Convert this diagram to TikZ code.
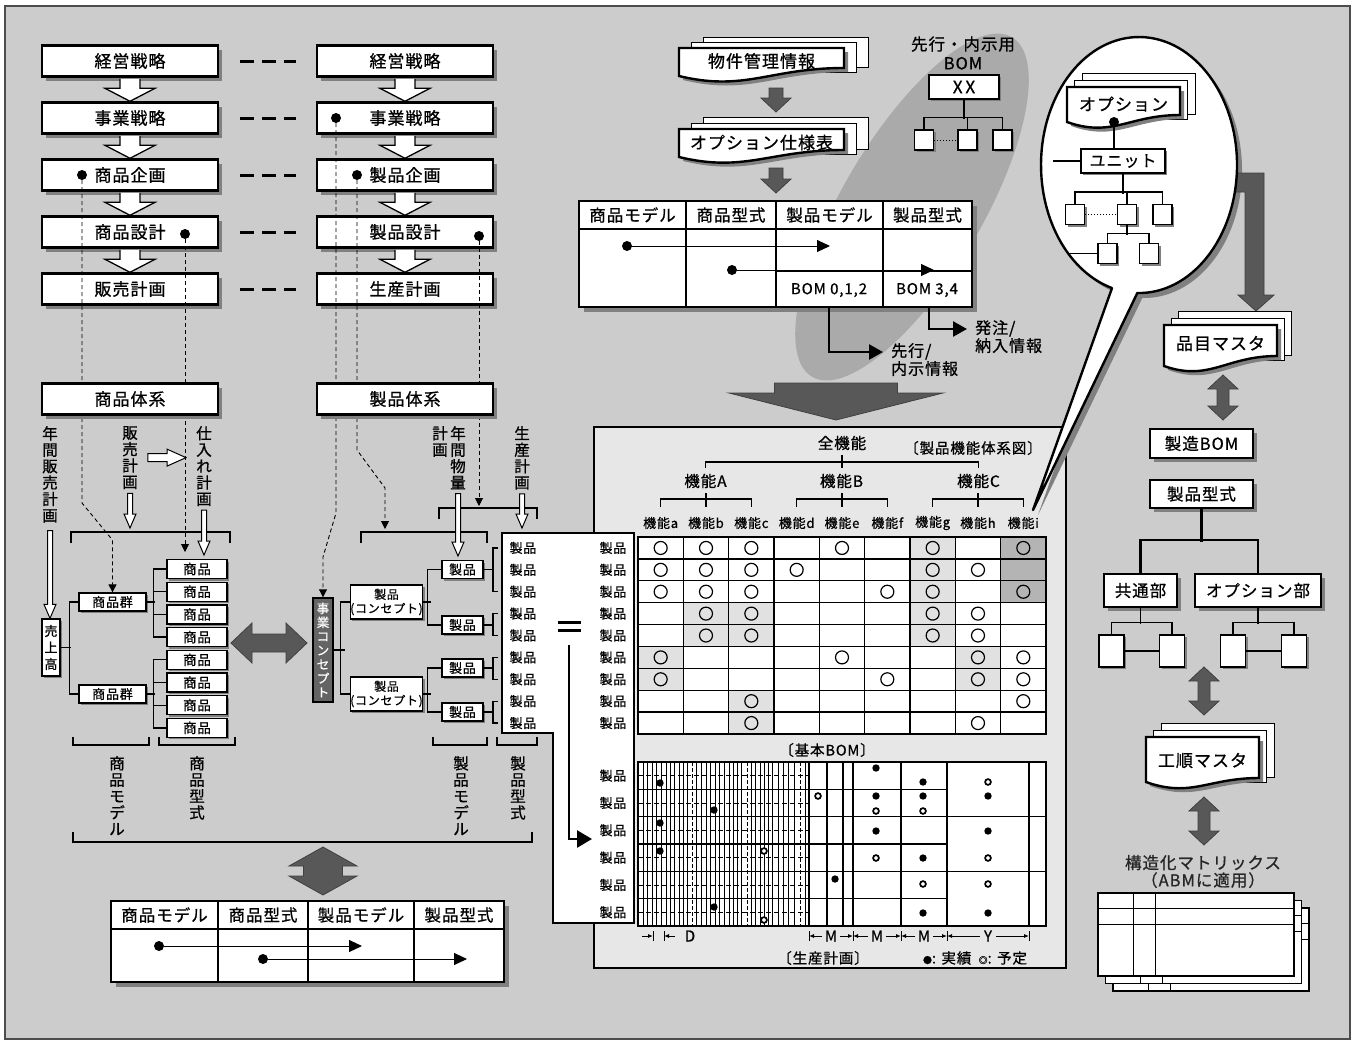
\documentclass[tikz,border=0pt]{standalone}
\usepackage{fontspec}
\setmainfont{Noto Sans CJK JP}[LetterSpace=6,FakeBold=0.8]
\usetikzlibrary{arrows.meta,positioning,calc,shadows}
\definecolor{bgGray}{RGB}{204,204,204}
\definecolor{panelGray}{RGB}{231,231,231}
\definecolor{arrowGray}{RGB}{88,88,88}
\definecolor{ovalGray}{RGB}{170,170,170}
\definecolor{cellLight}{RGB}{225,225,225}
\definecolor{cellDark}{RGB}{180,180,180}
\definecolor{shadowGray}{RGB}{128,128,128}
\definecolor{conceptGray}{RGB}{100,100,100}
\newcommand{\fsz}[1]{\fontsize{#1}{#1}\selectfont}
\pgfdeclarelayer{back}
\pgfsetlayers{back,main}

% white block arrow from one box down to the next
\newcommand{\blockdn}[2]{%
  \draw[hollow,line width=1.3pt] let \p1=(#1.south), \p2=(#2.north) in
    (\x1-10pt,\y1-1.2pt) -- (\x1-10pt,\y2+13pt) -- (\x1-25pt,\y2+13pt) -- (\x1,\y2)
    -- (\x1+25pt,\y2+13pt) -- (\x1+10pt,\y2+13pt) -- (\x1+10pt,\y1-1.2pt);}
% thin white arrow pointing down
\newcommand{\hollowdn}[2]{%
  \draw[hollow] let \p1=(#1), \p2=(#2) in
    (\x1-2.5pt,\y1) -- (\x1-2.5pt,\y2+14pt) -- (\x1-6pt,\y2+14pt) -- (\x1,\y2)
    -- (\x1+6pt,\y2+14pt) -- (\x1+2.5pt,\y2+14pt) -- (\x1+2.5pt,\y1) -- cycle;}
% dark arrow pointing down: top, tip, shaft half, head half, head length
\newcommand{\dkdown}[5]{%
  \draw[darkarrow] let \p1=(#1), \p2=(#2) in
    (\x1-#3,\y1) -- (\x1-#3,\y2+#5) -- (\x1-#4,\y2+#5) -- (\x1,\y2)
    -- (\x1+#4,\y2+#5) -- (\x1+#3,\y2+#5) -- (\x1+#3,\y1) -- cycle;}
% dark double arrows: ends, head half, head length, shaft half
\newcommand{\dkdblh}[5]{%
  \draw[darkarrow] let \p1=(#1), \p2=(#2) in
    (\x1,\y1) -- (\x1+#4,\y1+#3) -- (\x1+#4,\y1+#5) -- (\x2-#4,\y1+#5) -- (\x2-#4,\y1+#3)
    -- (\x2,\y1) -- (\x2-#4,\y1-#3) -- (\x2-#4,\y1-#5) -- (\x1+#4,\y1-#5) -- (\x1+#4,\y1-#3) -- cycle;}
\newcommand{\dkdblv}[5]{%
  \draw[darkarrow] let \p1=(#1), \p2=(#2) in
    (\x1,\y1) -- (\x1+#3,\y1-#4) -- (\x1+#5,\y1-#4) -- (\x1+#5,\y2+#4) -- (\x1+#3,\y2+#4)
    -- (\x1,\y2) -- (\x1-#3,\y2+#4) -- (\x1-#5,\y2+#4) -- (\x1-#5,\y1-#4) -- (\x1-#3,\y1-#4) -- cycle;}
% stack of documents: name, x1, top, x2, right foot, left foot, dx, dy, text
\newcommand{\docstack}[9]{%
  \draw[page] ({#2+2*#7},{#3-2*#8}) rectangle ({#4+2*#7},{#5-1});
  \draw[page] ({#2+#7},{#3-#8}) rectangle ({#4+#7},{#5+4});
  \fill[shadowGray] ({#2+4},{#3+4}) -- ({#4+4},{#3+4}) -- ({#4+4},{#5+4})
    .. controls ({#2+0.55*(#4-#2)+4},{#5+4}) and ({#2+0.4*(#4-#2)+4},{#6+20}) .. ({#2+4},{#6+4}) -- cycle;
  \draw[frontpage] (#2,#3) -- (#4,#3) -- (#4,#5)
    .. controls ({#2+0.55*(#4-#2)},#5) and ({#2+0.4*(#4-#2)},{#6+16}) .. (#2,#6) -- cycle;
  \node[doctext] (#1) at ({(#2+#4)/2},{(#3+#5)/2+3}) {#9};}

\begin{document}
\begin{tikzpicture}[x=1pt,y=-1pt,
    mainbox/.style={draw,line width=2.4pt,fill=white,minimum width=176pt,minimum height=31pt,inner sep=0pt,font=\fsz{17},
      drop shadow={shadow xshift=4pt,shadow yshift=-4pt,fill=shadowGray,opacity=1}},
    sidebox/.style={draw,line width=2.4pt,fill=white,inner sep=0pt,font=\fsz{16.5},
      drop shadow={shadow xshift=4pt,shadow yshift=-4pt,fill=shadowGray,opacity=1}},
    itembox/.style={draw,line width=1.3pt,fill=white,inner sep=0pt,font=\fsz{13},
      drop shadow={shadow xshift=2pt,shadow yshift=-2pt,fill=shadowGray,opacity=1}},
    leafbox/.style={itembox,minimum width=19pt,minimum height=20pt},
    vlabel/.style={align=center,inner sep=0pt,anchor=north,font=\fontsize{15.5}{16.4}\selectfont},
    rowlab/.style={inner sep=0pt,font=\fsz{13}},
    hdr/.style={inner sep=0pt,font=\fsz{16.5}},
    doctext/.style={inner sep=0pt,font=\fsz{17}},
    tree/.style={line width=1.3pt},
    guide/.style={line width=0.9pt,dash pattern=on 4pt off 3pt},
    guidetip/.style={guide,-{Triangle[length=8pt,width=8pt]}},
    spot/.style={circle,fill=black,inner sep=0pt,minimum size=10pt},
    hollow/.style={draw,line width=1pt,fill=white},
    darkarrow/.style={draw=black!75,line width=0.8pt,fill=arrowGray},
    linkdash/.style={line width=3pt,dash pattern=on 14pt off 8pt,shorten <=21pt,shorten >=20pt},
    flow/.style={line width=1pt,-{Triangle[length=13pt,width=12pt]}},
    elbowflow/.style={line width=2.6pt,-{Triangle[length=14pt,width=15pt]}},
    page/.style={draw,line width=1pt,fill=white},
    frontpage/.style={draw,line width=2.4pt,fill=white},
    cell/.style={line width=1.3pt},
    fine/.style={line width=0.6pt},
    dim/.style={line width=0.9pt,-{Latex[length=5pt,width=4pt]}}
  ]
\useasboundingbox (0,0) rectangle (1356,1044);
\begin{pgfonlayer}{back}
  \fill[white] (0,0) rectangle (1356,1044);
  \draw[line width=1.2pt,fill=bgGray,draw=black!70] (5,6) rectangle (1350,1039);
  \fill[ovalGray,rotate around={59.5:(912,207)}] (912,207) ellipse [x radius=197pt,y radius=70pt];
  \draw[line width=1.2pt,fill=panelGray] (594,427) rectangle (1066,968);
\end{pgfonlayer}

% strategy columns
\node[mainbox] (ls1) at (130,61) {経営戦略};
\node[mainbox,below=23.6pt of ls1] (ls2) {事業戦略};
\node[mainbox,below=23.6pt of ls2] (ls3) {商品企画};
\node[mainbox,below=23.6pt of ls3] (ls4) {商品設計};
\node[mainbox,below=23.6pt of ls4] (ls5) {販売計画};
\node[mainbox] (rs1) at (405,61) {経営戦略};
\node[mainbox,below=23.6pt of rs1] (rs2) {事業戦略};
\node[mainbox,below=23.6pt of rs2] (rs3) {製品企画};
\node[mainbox,below=23.6pt of rs3] (rs4) {製品設計};
\node[mainbox,below=23.6pt of rs4] (rs5) {生産計画};
\foreach \i [evaluate=\i as \j using int(\i+1)] in {1,...,4} {
  \blockdn{ls\i}{ls\j}
  \blockdn{rs\i}{rs\j}
}
\foreach \i in {1,...,5} \draw[linkdash] (ls\i) -- (rs\i);

% goods tree
\node[itembox,minimum width=18pt,minimum height=57pt,align=center,font=\fontsize{13}{16.5}\selectfont] (uri) at (51,647.5) {売\\上\\高};
\node[itembox,minimum width=67pt,minimum height=18pt] (gA) at (112.5,602) {商品群};
\node[itembox,minimum width=67pt,minimum height=18pt] (gB) at (112.5,694) {商品群};
\foreach \i in {1,...,8}
  \node[itembox,minimum width=60pt,minimum height=19pt,font=\fsz{13.5}] (p\i) at (197,{569+(\i-1)*22.7}) {商品};
\draw[tree] (uri.east) -- ++(10,0);
\draw[tree] (gA.west) -- ++(-9,0) |- (gB.west);
\draw[tree] (gA.east) -- ++(8,0);
\draw[tree] (gB.east) -- ++(8,0);
\draw[tree] (p1.west) -- ++(-13,0) |- (p4.west);
\draw[tree] (p5.west) -- ++(-13,0) |- (p8.west);
\foreach \i in {2,3,6,7} \draw[tree] (p\i.west) -- ++(-13,0);
\draw[tree] (71,543) |- (230,532) -- (230,543);
\draw[tree] (73,737) |- (149,745) -- (149,737);
\draw[tree] (159,737) |- (235,745) -- (235,737);
\draw[tree] (73,832) |- (532,842) -- (532,832);

% product tree
\node[draw,line width=1.4pt,fill=conceptGray,text=white,minimum width=20pt,minimum height=104pt,inner sep=0pt,align=center,font=\fontsize{12.5}{14}\selectfont] (jc) at (323,650) {事\\業\\コ\\ン\\セ\\プ\\ト};
\node[itembox,minimum width=67pt,minimum height=34pt,align=center,font=\fontsize{12}{14}\selectfont] (cA) at (386.5,602) {製品\\(コンセプト)};
\node[itembox,minimum width=67pt,minimum height=34pt,align=center,font=\fontsize{12}{14}\selectfont] (cB) at (386.5,694) {製品\\(コンセプト)};
\node[itembox,minimum width=41pt,minimum height=18pt] (q1) at (462.5,569.5) {製品};
\node[itembox,minimum width=41pt,minimum height=18pt] (q2) at (462.5,625) {製品};
\node[itembox,minimum width=41pt,minimum height=18pt] (q3) at (462.5,668) {製品};
\node[itembox,minimum width=41pt,minimum height=18pt] (q4) at (462.5,712) {製品};
\draw[tree] (jc.east) -- ++(11,0);
\draw[tree] (cA.west) -- ++(-9,0) |- (cB.west);
\draw[tree] (cA.east) -- ++(8,0);
\draw[tree] (cB.east) -- ++(8,0);
\draw[tree] (q1.west) -- ++(-14,0) |- (q2.west);
\draw[tree] (q3.west) -- ++(-14,0) |- (q4.west);
\foreach \i in {1,...,4} \draw[tree] (q\i.east) -- ++(10,0);
\foreach \a/\b in {1/3,4/5,6/7,8/9}
  \draw[tree] (498,{537+(\a-0.5)*21.89}) -- (493,{537+(\a-0.5)*21.89}) -- (493,{537+(\b-0.5)*21.89}) -- (498,{537+(\b-0.5)*21.89});
\draw[tree] (439,519) |- (537,508) -- (537,519);
\draw[tree] (361,543) |- (487,532) -- (487,543);
\draw[tree] (433,737) |- (487,745) -- (487,737);
\draw[tree] (497,737) |- (537,745) -- (537,737);
\dkdblh{231,643}{307,643}{20pt}{21pt}{9pt}

% dots and dashed guides
\node[spot] (dA) at (82,175) {};
\node[spot] (dB) at (185,234) {};
\node[spot] (dC) at (336,118) {};
\node[spot] (dD) at (357,175) {};
\node[spot] (dE) at (479,236) {};
\coordinate (kB) at (185,552);
\coordinate (kD) at (385,529);
\coordinate (kE) at (479,506);
\draw[guidetip] (dA) -- (82,503) -- (112.5,540) -- (gA.north);
\draw[guidetip] (dB) -- (kB);
\draw[guidetip] (dC) -- (336,513) -- (323,557) -- (jc.north);
\draw[guidetip] (dD) -- (357,450) -- (385,488) -- (kD);
\draw[guidetip] (dE) -- (kE);
\node[mainbox] (lsys) at (130,399) {商品体系};
\node[mainbox] (rsys) at (405,399) {製品体系};

% vertical labels and white arrows
\node[vlabel] (vA) at (50,426) {年\\間\\販\\売\\計\\画};
\node[vlabel] (vB) at (130,426) {販\\売\\計\\画};
\node[vlabel] (vC) at (204,426) {仕\\入\\れ\\計\\画};
\node[vlabel] (vD) at (458,426) {年\\間\\物\\量};
\node[vlabel] (vE) at (440,426) {計\\画};
\node[vlabel] (vF) at (522,426) {生\\産\\計\\画};
\node[vlabel] (vG) at (117,756) {商\\品\\モ\\デ\\ル};
\node[vlabel] (vH) at (197,756) {商\\品\\型\\式};
\node[vlabel] (vI) at (461,756) {製\\品\\モ\\デ\\ル};
\node[vlabel] (vJ) at (518,756) {製\\品\\型\\式};
\coordinate (kB1) at (130,528);
\coordinate (kC) at (204,555);
\coordinate (kD2) at (458,556);
\coordinate (kF) at (522,528);
\coordinate (kH) at (186,457);
\hollowdn{$(vA.south)+(0,8)$}{uri.north}
\hollowdn{$(vB.south)+(0,4)$}{kB1}
\hollowdn{$(vC.south)+(0,4)$}{kC}
\hollowdn{$(vD.south)+(0,4)$}{kD2}
\hollowdn{$(vF.south)+(0,4)$}{kF}
\draw[hollow] let \p1=($(vB.east)+(10,0)$), \p2=(kH) in
  (\x1,\y1+4pt) -- (\x2-19pt,\y1+4pt) -- (\x2-19pt,\y1+8.5pt) -- (\x2,\y1)
  -- (\x2-19pt,\y1-8.5pt) -- (\x2-19pt,\y1-4pt) -- (\x1,\y1-4pt) -- cycle;

% white label strip
\draw[line width=1.5pt,fill=white] (502,533) -- (634,533) -- (634,923) -- (553,923) -- (553,733) -- (502,733) -- cycle;
\foreach \r in {1,...,9} {
  \node[rowlab] (ml\r) at (523,{537+(\r-0.5)*21.89}) {製品};
  \node[rowlab] (mr\r) at (613,{537+(\r-0.5)*21.89}) {製品};
}
\foreach \r in {1,...,6} \node[rowlab] (bl\r) at (613,{762+(\r-0.5)*27.33}) {製品};
\draw[line width=3pt] (558,622) -- (581,622) (558,630) -- (581,630);
\coordinate (eqTop) at (569,645);
\coordinate (eqEnd) at (592,839);
\draw[line width=2.6pt,-{Triangle[length=15pt,width=17pt]}] (eqTop) |- (eqEnd);

% bottom comparison table
\dkdblv{323,847}{323,895}{34pt}{19pt}{19.5pt}
\fill[shadowGray] (116,906) rectangle (509,987);
\draw[line width=2.6pt,fill=white] (111,901) rectangle (504,982);
\draw[cell] (111,929) -- (504,929);
\foreach \x in {218,308,414} \draw[cell] (\x,901) -- (\x,982);
\node[hdr] (bh1) at (164.5,915) {商品モデル};
\node[hdr] (bh2) at (263,915) {商品型式};
\node[hdr] (bh3) at (361,915) {製品モデル};
\node[hdr] (bh4) at (459,915) {製品型式};
\node[spot] (ba1) at (159,946) {};
\node[spot] (ba2) at (263,959) {};
\coordinate (ba1e) at (362,946);
\coordinate (ba2e) at (467,959);
\draw[flow] (ba1) -- (ba1e);
\draw[flow] (ba2) -- (ba2e);

% documents and upper table
\docstack{docA}{679}{48}{844}{68}{76}{12}{5.5}{物件管理情報}
\docstack{docB}{679}{129}{844}{150}{157}{12}{6}{オプション仕様表}
\dkdown{776,88}{776,112}{7pt}{15pt}{14pt}
\dkdown{776,168}{776,193}{7pt}{15pt}{14pt}
\fill[shadowGray] (584,206) rectangle (977,312);
\draw[line width=2.6pt,fill=white] (579,201) rectangle (972,307);
\draw[cell] (579,229) -- (972,229);
\draw[cell] (776,271) -- (972,271);
\foreach \x in {686,776,883} \draw[cell] (\x,201) -- (\x,307);
\node[hdr] (th1) at (632.5,215) {商品モデル};
\node[hdr] (th2) at (731,215) {商品型式};
\node[hdr] (th3) at (829.5,215) {製品モデル};
\node[hdr] (th4) at (927.5,215) {製品型式};
\node[spot] (ta1) at (627,246) {};
\node[spot] (ta2) at (732,270) {};
\coordinate (ta1e) at (830,246);
\coordinate (ta2e) at (934,270);
\draw[flow] (ta1) -- (ta1e);
\draw[flow] (ta2) -- (ta2e);
\node[inner sep=0pt,font=\fsz{15}] (bom1) at (829,290) {BOM 0,1,2};
\node[inner sep=0pt,font=\fsz{15}] (bom2) at (927,290) {BOM 3,4};
\coordinate (oA) at (829,307);
\coordinate (oAe) at (883,352);
\coordinate (oB) at (929,307);
\coordinate (oBe) at (967,329);
\draw[elbowflow] (oA) |- (oAe);
\draw[elbowflow] (oB) |- (oBe);
\node[anchor=north west,align=left,inner sep=0pt,font=\fontsize{16}{18}\selectfont] (outA) at (891,343) {先行/\\内示情報};
\node[anchor=north west,align=left,inner sep=0pt,font=\fontsize{16}{18}\selectfont] (outB) at (975,320) {発注/\\納入情報};
\dkdown{836,383}{836,420}{61.5pt}{107pt}{27pt}

% advance BOM
\node[align=center,inner sep=0pt,font=\fontsize{16.5}{19}\selectfont] (advT) at (963,53) {先行・内示用\\BOM};
\node[itembox,line width=1.6pt,minimum width=70pt,minimum height=24pt,font=\fsz{17}] (xx) at (964,87) {X\,X};
\node[leafbox] (s1) at (924,140) {};
\node[leafbox] (s2) at (967.5,140) {};
\node[leafbox] (s3) at (1002.5,140) {};
\draw[tree] (xx.south) -- ++(0,19);
\draw[tree] (s1.north) -- ++(0,-12) -| (s3.north);
\draw[tree] (s2.north) -- ++(0,-12);
\draw[line width=1pt,dotted] (s1.east) -- (s2.west);

% function matrix
\node[inner sep=0pt,font=\fsz{15.5}] (fAll) at (842,443) {全機能};
\node[inner sep=0pt,font=\fsz{14.5}] (fTitle) at (973,448) {〔製品機能体系図〕};
\node[inner sep=0pt,font=\fsz{15.5}] (fA) at (705.5,481) {機能A};
\node[inner sep=0pt,font=\fsz{15.5}] (fB) at (841.5,481) {機能B};
\node[inner sep=0pt,font=\fsz{15.5}] (fC) at (978.5,481) {機能C};
\foreach \c/\l in {1/a,2/b,3/c,4/d,5/e,6/f,7/g,8/h,9/i}
  \node[inner sep=0pt,font=\fsz{13}] (f\l) at ({638+(\c-0.5)*45.33},523) {機能\l};
\draw[tree] (842,455) -- (842,468);
\draw[tree] (705.5,468) -- (705.5,462) -- (978.5,462) -- (978.5,468);
\foreach \m in {1,4,7} {
  \draw[tree] ({638+(\m+0.5)*45.33},493) -- ({638+(\m+0.5)*45.33},507);
  \draw[tree] ({638+(\m-0.5)*45.33},507) -- ({638+(\m-0.5)*45.33},499) -- ({638+(\m+1.5)*45.33},499) -- ({638+(\m+1.5)*45.33},507);
}
\draw[fill=white,draw=none] (638,537) rectangle (1046,734);
\foreach \c/\r in {7/1,7/2,7/3,7/4,7/5,2/4,3/4,2/5,3/5,1/6,1/7,8/6,8/7,3/8,3/9}
  \fill[cellLight] ({638+(\c-1)*45.33},{537+(\r-1)*21.89}) rectangle ++(45.33,21.89);
\foreach \r in {1,2,3}
  \fill[cellDark] ({638+8*45.33},{537+(\r-1)*21.89}) rectangle ++(45.33,21.89);
\foreach \k in {1,...,8} {
  \draw[cell] ({638+\k*45.33},537) -- ({638+\k*45.33},734);
  \draw[cell] (638,{537+\k*21.89}) -- (1046,{537+\k*21.89});
}
\draw[line width=1.6pt] (638,537) rectangle (1046,734);
\foreach \r/\cols in {1/{1,2,3,5,7,9},2/{1,2,3,4,7,8},3/{1,2,3,6,7,9},4/{2,3,7,8},5/{2,3,7,8},6/{1,5,8,9},7/{1,6,8,9},8/{3,9},9/{3,8}}
  \foreach \c in \cols
    \draw[line width=1.2pt] ({638+(\c-0.5)*45.33},{537+(\r-0.5)*21.89}) circle (6.5pt);

% basic BOM
\node[inner sep=0pt,font=\fsz{14.5}] (bTitle) at (827,750) {〔基本BOM〕};
\fill[white] (638,762) rectangle (1046,926);
\foreach \x in {643.3,647.3,652.3,656.7,661,666,670,674.3,679.3,683.3,687.5,696,701,706,710,715,719.3,724.3,729.3,733.3,737.5,741.7,751.5,755.7,760,764.5,768.5,772.7,778.3,783.3,788.3,794,805}
  \draw[fine] (\x,762) -- (\x,926);
\foreach \x in {692,747,800} \draw[line width=0.9pt,dash pattern=on 4pt off 2pt] (\x,762) -- (\x,926);
\foreach \r in {0.5,1.5,...,5.5} \draw[line width=0.8pt,dash pattern=on 5pt off 3pt] (638,{762+\r*27.33}) -- (809,{762+\r*27.33});
\foreach \r in {1,...,5} \draw[cell] (638,{762+\r*27.33}) -- (947,{762+\r*27.33});
\foreach \r in {2,4} \draw[cell] (947,{762+\r*27.33}) -- (1046,{762+\r*27.33});
\foreach \x in {809,827,843,853,901,947,1029} \draw[cell] (\x,762) -- (\x,926);
\draw[line width=1.6pt] (638,762) rectangle (1046,926);
\foreach \x/\y in {660/783,714/810,660/823,660/851,714/907,835/879,876/768,876/796,876/831,923/782,923/796,923/858,923/913,988/796,988/831,988/913}
  \fill (\x,\y) circle (3.7pt);
\foreach \x/\y in {764/851,764/920,818/796,876/811,876/858,923/811,923/884,988/782,988/858,988/884}
  \draw[line width=1.7pt,fill=white] (\x,\y) circle (2.9pt);
\draw[dim] (642,936) -- (653,936);
\draw[line width=0.9pt] (653,931) -- (653,941) (664,931) -- (664,941);
\draw[dim] (675,936) -- (664,936);
\node[inner sep=0pt,font=\fsz{15}] (dayD) at (690,936) {D};
\foreach \a/\b in {809/853,853/901,901/947} {
  \draw[dim] ({(\a+\b)/2-9},936) -- (\a,936);
  \draw[dim] ({(\a+\b)/2+9},936) -- (\b,936);
  \draw[line width=0.9pt] (\a,931) -- (\a,941) (\b,931) -- (\b,941);
  \node[inner sep=0pt,font=\fsz{15}] at ({(\a+\b)/2},936) {M};
}
\draw[dim] (980,936) -- (947,936);
\draw[dim] (996,936) -- (1029,936);
\draw[line width=0.9pt] (1029,931) -- (1029,941);
\node[inner sep=0pt,font=\fsz{15}] (yearY) at (988,936) {Y};
\node[inner sep=0pt,font=\fsz{14.5}] (pTitle) at (823,958) {〔生産計画〕};
\node[inner sep=0pt,font=\fsz{14.5}] (legend) at (975,958) {{\fsz{9}●}: 実績\enspace{\fsz{9}◎}: 予定};

% speech bubble and right column
\fill[shadowGray,shift={(5pt,-5pt)}] (1137.3,293) arc[start angle=91,end angle=-254,x radius=98,y radius=128] -- (1033,510) -- cycle;
\draw[darkarrow] (1225,173) -- (1264,173) -- (1264,295) -- (1274,295) -- (1256,311) -- (1238,295) -- (1245,295) -- (1245,192) -- (1225,192) -- cycle;
\draw[line width=2.4pt,fill=white,line join=round] (1137.3,293) arc[start angle=91,end angle=-254,x radius=98,y radius=128] -- (1033,510) -- cycle;
\docstack{docO}{1067}{87}{1180}{115}{122}{7.5}{7}{オプション}
\node[spot] (oDot) at (1114,122) {};
\node[itembox,line width=1.6pt,minimum width=84pt,minimum height=24pt,font=\fsz{16}] (unit) at (1123,161) {ユニット};
\draw[tree] (oDot) -- (oDot |- unit.north);
\draw[tree] (unit.west) -- ++(-27,0);
\node[leafbox] (u1) at (1075,214.5) {};
\node[leafbox] (u2) at (1127,214.5) {};
\node[leafbox] (u3) at (1162.5,214.5) {};
\node[leafbox] (u4) at (1107.5,253.5) {};
\node[leafbox] (u5) at (1149,253.5) {};
\draw[tree] (unit.south) -- ++(0,20);
\draw[tree] (u1.north) -- ++(0,-12) -| (u3.north);
\draw[tree] (u2.north) -- ++(0,-12);
\draw[line width=1pt,dotted] (u1.east) -- (u2.west);
\draw[tree] (u2.south) -- ++(0,10);
\draw[tree] (u4.north) -- ++(0,-9.5) -| (u5.north);
\draw[tree] (u4.west) -- ++(-29,0);

\docstack{docM}{1164}{325}{1277}{356}{366}{7}{7}{品目マスタ}
\dkdblv{1223,375}{1223,420}{15pt}{14pt}{6pt}
\node[sidebox,minimum width=103pt,minimum height=29pt] (mbom) at (1201.5,443.5) {製造BOM};
\node[sidebox,minimum width=103pt,minimum height=28pt] (ptype) at (1201.5,494) {製品型式};
\node[sidebox,minimum width=73pt,minimum height=33pt] (cm) at (1140.5,590.5) {共通部};
\node[sidebox,minimum width=126pt,minimum height=33pt] (op) at (1258,590.5) {オプション部};
\draw[line width=2.4pt] (ptype.south) -- ++(0,33);
\draw[line width=2.4pt] (cm.north) -- ++(0,-33) -| (op.north);
\node[itembox,minimum width=25pt,minimum height=32pt] (k1) at (1111.5,651) {};
\node[itembox,minimum width=25pt,minimum height=32pt] (k2) at (1172,651) {};
\node[itembox,minimum width=25pt,minimum height=32pt] (k3) at (1233,651) {};
\node[itembox,minimum width=25pt,minimum height=32pt] (k4) at (1294,651) {};
\draw[tree] (cm.south) -- ++(0,16);
\draw[tree] (op.south) -- ++(0,16);
\draw[tree] (k1.north) -- ++(0,-12) -| (k2.north);
\draw[tree] (k3.north) -- ++(0,-12) -| (k4.north);
\draw[tree] (k1.east) -- (k2.west);
\draw[tree] (k3.east) -- (k4.west);
\dkdblv{1204,667}{1204,715}{15pt}{14pt}{6pt}
\docstack{docK}{1146}{737}{1259}{778}{782}{7.5}{7}{工順マスタ}
\dkdblv{1204,797}{1204,845}{15pt}{14pt}{6pt}
\node[align=center,inner sep=0pt,text=black!85,font=\fontsize{16.5}{17.5}\selectfont] (abm) at (1203,871.5) {構造化マトリックス\\（ABMに適用）};
\foreach \d in {15,7.5,0} {
  \draw[line width=1.3pt,fill=white] ({1098+\d},{893+\d}) rectangle ({1294+\d},{976+\d});
  \draw[line width=0.9pt] ({1133+\d},{893+\d}) -- ({1133+\d},{976+\d}) ({1155+\d},{893+\d}) -- ({1155+\d},{976+\d})
    ({1098+\d},{908+\d}) -- ({1294+\d},{908+\d}) ({1098+\d},{924+\d}) -- ({1294+\d},{924+\d});
}
\end{tikzpicture}
\end{document}
